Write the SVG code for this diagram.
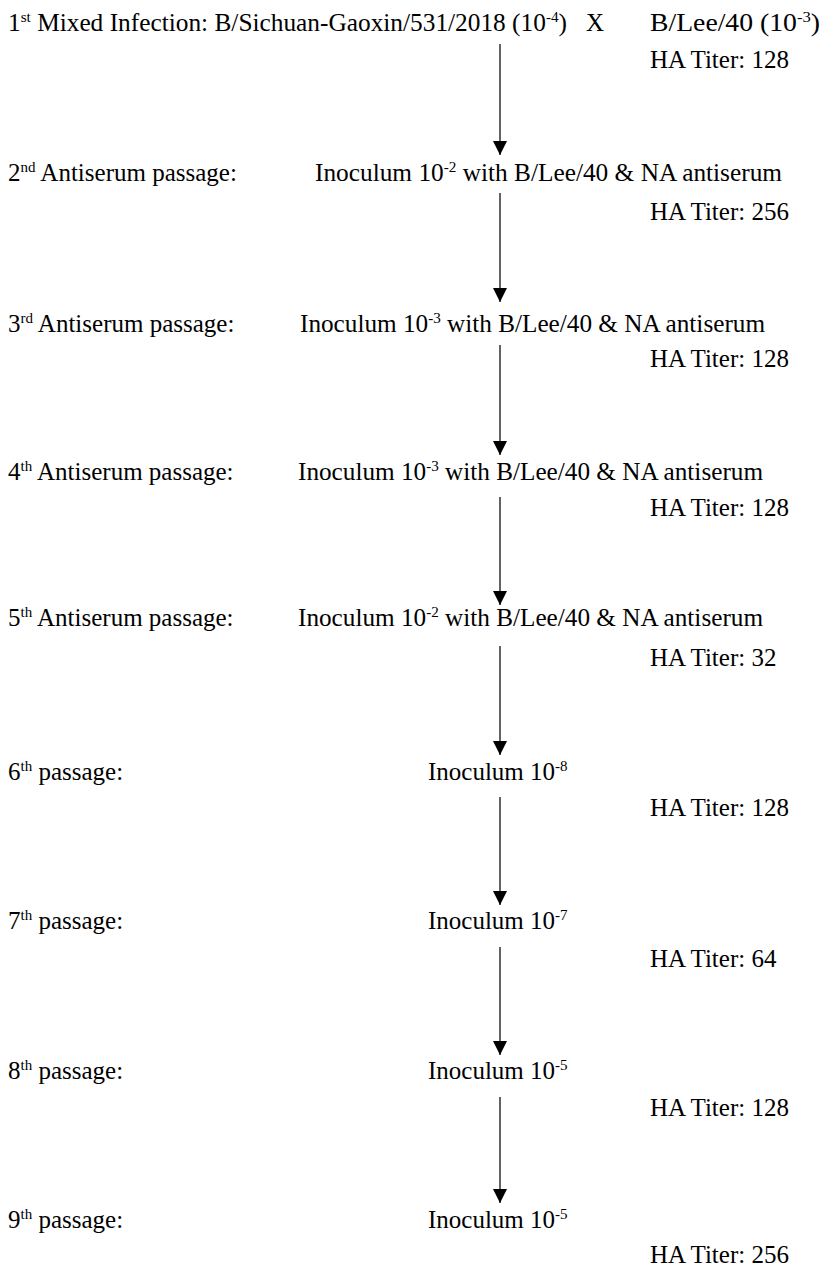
<svg xmlns="http://www.w3.org/2000/svg" width="830" height="1268" viewBox="0 0 830 1268">
<style>
text{font-family:"Liberation Serif","Times New Roman",serif;font-size:25px;fill:#000}
.sup{font-size:15px}
.arr{stroke:#222;stroke-width:1.4;fill:none;marker-end:url(#ah)}
</style>
<defs>
<marker id="ah" viewBox="0 0 14 16" refX="14" refY="8" markerWidth="14" markerHeight="16" markerUnits="userSpaceOnUse" orient="auto">
<path d="M0,1 L14,8 L0,15 z" fill="#000"/>
</marker>
</defs>
<rect width="830" height="1268" fill="#fff"/>
<g id="connectors">
<line class="arr" x1="500" y1="44" x2="500" y2="155"/>
<line class="arr" x1="500" y1="193" x2="500" y2="302"/>
<line class="arr" x1="500" y1="345" x2="500" y2="455"/>
<line class="arr" x1="500" y1="497" x2="500" y2="605"/>
<line class="arr" x1="500" y1="646" x2="500" y2="755"/>
<line class="arr" x1="500" y1="797" x2="500" y2="905"/>
<line class="arr" x1="500" y1="947" x2="500" y2="1055"/>
<line class="arr" x1="500" y1="1097" x2="500" y2="1203"/>
</g>
<g id="row1">
<text x="8" y="31" textLength="559" lengthAdjust="spacingAndGlyphs">1<tspan class="sup" dy="-9">st</tspan><tspan dy="9"> Mixed Infection: B/Sichuan-Gaoxin/531/2018 (10</tspan><tspan class="sup" dy="-9">-4</tspan><tspan dy="9">)</tspan></text>
<text x="586" y="31">X</text>
<text x="650" y="31" textLength="170" lengthAdjust="spacingAndGlyphs">B/Lee/40 (10<tspan class="sup" dy="-9">-3</tspan><tspan dy="9">)</tspan></text>
<text x="650" y="68">HA Titer: 128</text>
</g>
<g id="row2">
<text x="8" y="181">2<tspan class="sup" dy="-9">nd</tspan><tspan dy="9"> Antiserum passage:</tspan></text>
<text x="315" y="181" textLength="467" lengthAdjust="spacingAndGlyphs">Inoculum 10<tspan class="sup" dy="-9">-2</tspan><tspan dy="9"> with B/Lee/40 &amp; NA antiserum</tspan></text>
<text x="650" y="220">HA Titer: 256</text>
</g>
<g id="row3">
<text x="8" y="332">3<tspan class="sup" dy="-9">rd</tspan><tspan dy="9"> Antiserum passage:</tspan></text>
<text x="300" y="332" textLength="465" lengthAdjust="spacingAndGlyphs">Inoculum 10<tspan class="sup" dy="-9">-3</tspan><tspan dy="9"> with B/Lee/40 &amp; NA antiserum</tspan></text>
<text x="650" y="367">HA Titer: 128</text>
</g>
<g id="row4">
<text x="8" y="480">4<tspan class="sup" dy="-9">th</tspan><tspan dy="9"> Antiserum passage:</tspan></text>
<text x="298" y="480" textLength="465" lengthAdjust="spacingAndGlyphs">Inoculum 10<tspan class="sup" dy="-9">-3</tspan><tspan dy="9"> with B/Lee/40 &amp; NA antiserum</tspan></text>
<text x="650" y="516">HA Titer: 128</text>
</g>
<g id="row5">
<text x="8" y="626">5<tspan class="sup" dy="-9">th</tspan><tspan dy="9"> Antiserum passage:</tspan></text>
<text x="298" y="626" textLength="465" lengthAdjust="spacingAndGlyphs">Inoculum 10<tspan class="sup" dy="-9">-2</tspan><tspan dy="9"> with B/Lee/40 &amp; NA antiserum</tspan></text>
<text x="650" y="666">HA Titer: 32</text>
</g>
<g id="row6">
<text x="8" y="780">6<tspan class="sup" dy="-9">th</tspan><tspan dy="9"> passage:</tspan></text>
<text x="428" y="780">Inoculum 10<tspan class="sup" dy="-9">-8</tspan></text>
<text x="650" y="816">HA Titer: 128</text>
</g>
<g id="row7">
<text x="8" y="929">7<tspan class="sup" dy="-9">th</tspan><tspan dy="9"> passage:</tspan></text>
<text x="428" y="929">Inoculum 10<tspan class="sup" dy="-9">-7</tspan></text>
<text x="650" y="967">HA Titer: 64</text>
</g>
<g id="row8">
<text x="8" y="1079">8<tspan class="sup" dy="-9">th</tspan><tspan dy="9"> passage:</tspan></text>
<text x="428" y="1079">Inoculum 10<tspan class="sup" dy="-9">-5</tspan></text>
<text x="650" y="1116">HA Titer: 128</text>
</g>
<g id="row9">
<text x="8" y="1228">9<tspan class="sup" dy="-9">th</tspan><tspan dy="9"> passage:</tspan></text>
<text x="428" y="1228">Inoculum 10<tspan class="sup" dy="-9">-5</tspan></text>
<text x="650" y="1263">HA Titer: 256</text>
</g>
</svg>
